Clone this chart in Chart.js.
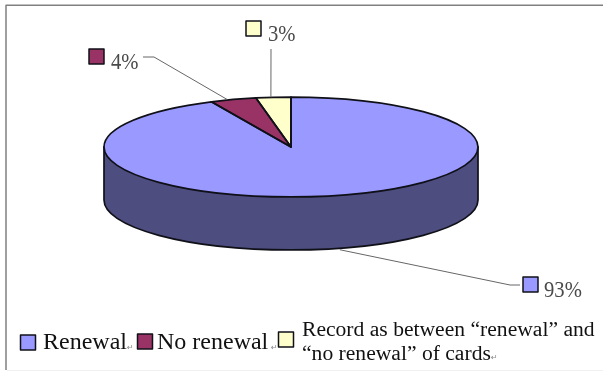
<!DOCTYPE html>
<html>
<head>
<meta charset="utf-8">
<title>Card renewal</title>
<style>
  html, body { margin: 0; background: #fff; }
  canvas { display: block; }
</style>
<script src="https://cdn.jsdelivr.net/npm/chart.js@4"></script>
</head>
<body>
<canvas id="renewalChart" width="603" height="372"></canvas>
<script>
// Werte der Karten-Erneuerung
const categories = ['Renewal', 'No renewal', 'Record as between'];
const values = [93, 4, 3];
const sliceColors = ['#9999ff', '#993366', '#ffffcc'];
const wallColor = '#4d4d80';

const legendLines = ['Record as between \u201crenewal\u201d and', '\u201cno renewal\u201d of cards'];

const squash = 0.267;  // Ellipse: ry / rx
const depth = 53;      // Höhe der Seitenwand
const outline = '#101018';

const cx = 291, cy = 147;

// Wertelabels: Kästchen, Text, Führungslinie (letzter Punkt kommt vom Segment)
const labelLayout = [
  { box: [523, 277], text: [544, 297], line: [[520, 285], [510, 285]], shift: [8, 1], wall: true },
  { box: [89, 49], text: [111, 69], line: [[143, 57], [154, 57]], shift: [-6, 0] },
  { box: [246, 21], text: [268, 41], line: [[271, 49]], shift: [-2.5, 0] },
];

function swatch(ctx, x, y, size, color) {
  ctx.fillStyle = color;
  ctx.strokeStyle = outline;
  ctx.lineWidth = 1.5;
  ctx.fillRect(x, y, size, size);
  ctx.strokeRect(x, y, size, size);
}

// Pfad in der gestauchten Ebene aufbauen, Strich danach ungestaucht
function ellipseArc(ctx, x, y, r, a0, a1) {
  ctx.save();
  ctx.translate(x, y);
  ctx.scale(1, squash);
  ctx.arc(0, 0, r, a0, a1);
  ctx.restore();
}

const pie3d = {
  id: 'pie3d',
  beforeDatasetsDraw(chart) {
    const ctx = chart.ctx;
    const { x, y, outerRadius: r } = chart.getDatasetMeta(0).data[0];

    // Seitenwand als eine Fläche, vorne sichtbar
    ctx.beginPath();
    ctx.moveTo(x + r, y);
    ctx.lineTo(x + r, y + depth);
    ellipseArc(ctx, x, y + depth, r, 0, Math.PI);
    ctx.lineTo(x - r, y);
    ctx.closePath();
    ctx.fillStyle = wallColor;
    ctx.fill();
    ctx.strokeStyle = outline;
    ctx.lineWidth = 1.7;
    ctx.stroke();

    // Deckfläche stauchen
    ctx.save();
    ctx.translate(x, y);
    ctx.scale(1, squash);
    ctx.translate(-x, -y);
  },
  afterDatasetsDraw(chart) {
    const ctx = chart.ctx;
    ctx.restore();

    // Umrisse der Segmente mit gleichmäßiger Strichstärke
    chart.getDatasetMeta(0).data.forEach(arc => {
      ctx.beginPath();
      ctx.moveTo(arc.x, arc.y);
      ellipseArc(ctx, arc.x, arc.y, arc.outerRadius, arc.startAngle, arc.endAngle);
      ctx.closePath();
      ctx.strokeStyle = outline;
      ctx.lineWidth = 1.7;
      ctx.lineJoin = 'round';
      ctx.stroke();
    });
  },
  afterDraw(chart) {
    const ctx = chart.ctx;
    const arcs = chart.getDatasetMeta(0).data;

    // Rahmen: oben und links kräftig, unten kaum sichtbar
    ctx.strokeStyle = '#808080';
    ctx.lineWidth = 1.5;
    ctx.beginPath();
    ctx.moveTo(6, 370);
    ctx.lineTo(6, 5.2);
    ctx.lineTo(603, 5.2);
    ctx.stroke();
    ctx.strokeStyle = '#f0f0f0';
    ctx.lineWidth = 1;
    ctx.beginPath();
    ctx.moveTo(7, 370.5);
    ctx.lineTo(603, 370.5);
    ctx.stroke();

    // Führungslinien und Prozentwerte
    ctx.textBaseline = 'alphabetic';
    ctx.textAlign = 'left';
    values.forEach((v, i) => {
      const arc = arcs[i];
      const pos = labelLayout[i];
      const mid = (arc.startAngle + arc.endAngle) / 2;
      const ax = arc.x + arc.outerRadius * Math.cos(mid) + pos.shift[0];
      const ay = arc.y + arc.outerRadius * squash * Math.sin(mid) + pos.shift[1] + (pos.wall ? depth : 0);
      ctx.beginPath();
      pos.line.forEach((p, n) => n ? ctx.lineTo(p[0], p[1]) : ctx.moveTo(p[0], p[1]));
      ctx.lineTo(ax, ay);
      ctx.strokeStyle = '#666';
      ctx.lineWidth = 1;
      ctx.stroke();

      swatch(ctx, pos.box[0], pos.box[1], 15, sliceColors[i]);

      // schmale, hohe Ziffern
      ctx.save();
      ctx.translate(pos.text[0], pos.text[1]);
      ctx.scale(0.86, 1);
      ctx.fillStyle = '#4a4a4a';
      ctx.font = '24px "Liberation Serif"';
      ctx.fillText(v + '%', 0, 0);
      ctx.restore();
    });

    // Legende
    swatch(ctx, 20.5, 335, 15, sliceColors[0]);
    swatch(ctx, 137.5, 334, 15, sliceColors[1]);
    swatch(ctx, 278.5, 332, 15, sliceColors[2]);
    ctx.fillStyle = '#111';
    ctx.font = '24px "Liberation Serif"';
    ctx.fillText(categories[0], 43, 349);
    ctx.fillText(categories[1], 157, 349);
    ctx.font = '21.6px "Liberation Serif"';
    ctx.fillText(legendLines[0], 302, 336);
    ctx.fillText(legendLines[1], 302, 360);

    // Absatzmarken hinter den Legendentexten
    ctx.fillStyle = '#888';
    ctx.font = '8px "DejaVu Sans"';
    ctx.fillText('\u21b5', 127, 350);
    ctx.fillText('\u21b5', 271, 350);
    ctx.fillText('\u21b5', 491, 360);
  }
};

new Chart(document.getElementById('renewalChart'), {
  type: 'pie',
  data: {
    labels: categories,
    datasets: [{
      data: values,
      backgroundColor: sliceColors,
      borderWidth: 0,
      clip: false
    }]
  },
  options: {
    responsive: false,
    animation: false,
    radius: 187,
    layout: { padding: { right: 603 - 2 * cx, bottom: 372 - 2 * cy } },
    plugins: {
      legend: { display: false },
      tooltip: { enabled: false }
    }
  },
  plugins: [pie3d]
});
</script>
</body>
</html>
